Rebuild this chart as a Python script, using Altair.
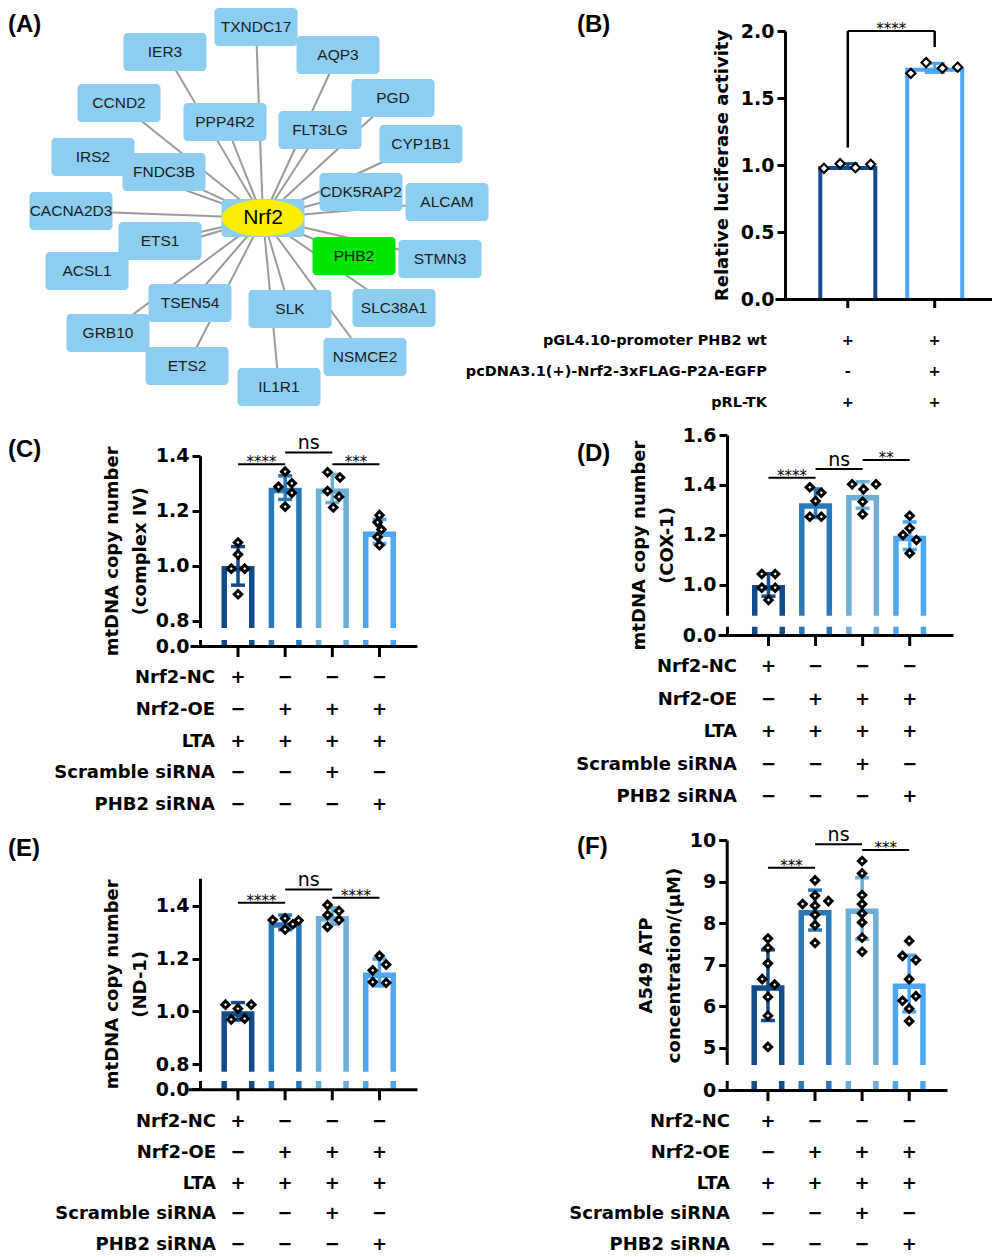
import altair as alt
import pandas as pd

FONT = "DejaVu Sans"
LETTER_FONT = "Liberation Sans"
NET_FONT = "Liberation Sans"

GROUP_COLORS = ["#134b8a", "#2b78b8", "#6caed6", "#4ea5f2"]
B_COLORS = ["#134b8a", "#4ea5f2"]
BOX_BLUE = "#8dcdf0"
BOX_GREEN = "#00e400"

# ---------------- Panel A: network ----------------
net_nodes = ["TXNDC17", "IER3", "AQP3", "CCND2", "PPP4R2", "PGD", "FLT3LG", "CYP1B1",
             "IRS2", "FNDC3B", "CDK5RAP2", "ALCAM", "CACNA2D3", "ETS1", "PHB2", "STMN3",
             "ACSL1", "TSEN54", "SLK", "SLC38A1", "GRB10", "ETS2", "NSMCE2", "IL1R1"]
net_x = [256, 165, 338, 119, 225, 393, 320, 421, 93, 164, 361, 447, 71, 160, 354, 440,
         87, 190, 290, 394, 108, 187, 365, 279]
net_y = [22, 47, 50, 98, 117, 93, 125, 139, 152, 167, 187, 197, 206, 236, 251, 254,
         266, 298, 304, 303, 328, 361, 352, 382]
hub_name = "Nrf2"
hub_x = 263
hub_y = 213
highlight = "PHB2"

# ---------------- Panel B ----------------
b_rows = ["pGL4.10-promoter PHB2 wt", "pcDNA3.1(+)-Nrf2-3xFLAG-P2A-EGFP", "pRL-TK"]
b_signs = [["+", "+"], ["-", "+"], ["+", "+"]]
b_means = [0.993, 1.725]
b_sd = [0.017, 0.034]
b_points = [[0.975, 1.01, 0.98, 1.005], [1.684, 1.764, 1.722, 1.73]]
b_jitter = [[-25, -8, 8, 24], [-25, -9, 8, 24]]
b_sig = [(1, 2, 2.0, "****")]
b_legs = [(1, 1.13, 2.0), (2, 1.88, 2.0)]

# ---------------- Panels C-F ----------------
cf_rows = ["Nrf2-NC", "Nrf2-OE", "LTA", "Scramble siRNA", "PHB2 siRNA"]
MN = "\u2212"
cf_signs = [["+", MN, MN, MN],
            [MN, "+", "+", "+"],
            ["+", "+", "+", "+"],
            [MN, MN, "+", MN],
            [MN, MN, MN, "+"]]

c_means = [1.00, 1.284, 1.281, 1.125]
c_sd = [0.07, 0.043, 0.051, 0.044]
c_points = [[1.085, 1.041, 0.990, 0.990, 0.897],
            [1.342, 1.287, 1.300, 1.265, 1.215],
            [1.340, 1.321, 1.272, 1.251, 1.212],
            [1.184, 1.158, 1.132, 1.105, 1.075]]
c_jitter = [[0, 0, -7, 7, 0], [0, -7, 7, 7, 0], [-5, 8, -5, 7, 1], [0, -2, 2, -2, 0]]
c_sig = [(1, 2, 1.369, "****"), (2, 3, 1.412, "ns"), (3, 4, 1.369, "***")]

d_means = [1.00, 1.327, 1.36, 1.197]
d_sd = [0.045, 0.057, 0.053, 0.055]
d_points = [[1.044, 1.044, 0.989, 0.989, 0.94],
            [1.391, 1.369, 1.336, 1.273, 1.273],
            [1.403, 1.383, 1.403, 1.333, 1.283],
            [1.277, 1.227, 1.20, 1.18, 1.127]]
d_jitter = [[-7, 7, -7, 7, 0], [-6, 6, 0, -6, 6], [-11, 1, 14, 0, 0], [0, 0, -7, 7, 0]]
d_sig = [(1, 2, 1.429, "****"), (2, 3, 1.464, "ns"), (3, 4, 1.50, "**")]

e_means = [1.00, 1.337, 1.361, 1.147]
e_sd = [0.033, 0.028, 0.031, 0.051]
e_points = [[1.025, 1.01, 1.025, 0.969, 0.972],
            [1.346, 1.352, 1.33, 1.344, 1.31],
            [1.403, 1.38, 1.365, 1.346, 1.32],
            [1.21, 1.177, 1.155, 1.111, 1.108]]
e_jitter = [[-13, 0, 14, -7, 7], [-13, 0, 8, 14, 0], [-5, 7, -5, 7, -5], [0, 7, -7, -7, 7]]
e_sig = [(1, 2, 1.411, "****"), (2, 3, 1.462, "ns"), (3, 4, 1.43, "****")]

f_means = [6.506, 8.313, 8.35, 6.546]
f_sd = [0.85, 0.48, 0.74, 0.68]
f_points = [[7.63, 7.405, 7.03, 6.65, 6.52, 6.22, 5.77, 5.02],
            [9.03, 8.46, 8.66, 8.53, 8.42, 8.2, 7.95, 7.52],
            [9.494, 9.196, 8.675, 8.458, 8.233, 8.016, 7.646, 7.31],
            [7.57, 7.21, 7.11, 6.65, 6.13, 6.24, 5.94, 5.64]]
f_jitter = [[0, 0, 0, -6, 7, 0, 0, 0], [0, -13, 0, 14, 0, 0, 0, 0],
            [0, 0, 0, 0, 0, 0, 0, 0], [0, -7, 7, 0, -7, 7, 0, 0]]
f_sig = [(1, 2, 9.333, "***"), (2, 3, 9.896, "ns"), (3, 4, 9.759, "***")]

CELL_W = 492


def network_panel():
    nodes = pd.DataFrame({"name": net_nodes, "x": net_x, "y": net_y})
    nodes["col"] = [BOX_GREEN if n == highlight else BOX_BLUE for n in net_nodes]
    edges = nodes.assign(hx=hub_x, hy=hub_y)
    allnodes = pd.concat([nodes, pd.DataFrame({"name": [hub_name], "x": [hub_x],
                                               "y": [hub_y], "col": [BOX_BLUE]})],
                         ignore_index=True)
    xs = alt.Scale(domain=[8, 8 + CELL_W], nice=False, zero=False)
    ys = alt.Scale(domain=[8, 420], nice=False, zero=False, reverse=True)
    edge_l = alt.Chart(edges).mark_rule(color="#9b9b9b", strokeWidth=2).encode(
        x=alt.X("hx:Q", scale=xs, axis=None), y=alt.Y("hy:Q", scale=ys, axis=None),
        x2="x:Q", y2="y:Q")
    box_l = alt.Chart(allnodes).transform_calculate(
        x1="datum.x - 41.5", x2="datum.x + 41.5", y1="datum.y - 19", y2="datum.y + 19"
    ).mark_rect(cornerRadius=4, opacity=1).encode(
        x=alt.X("x1:Q", scale=xs, axis=None), x2="x2:Q",
        y=alt.Y("y1:Q", scale=ys, axis=None), y2="y2:Q",
        color=alt.Color("col:N", scale=None))
    hub_df = pd.DataFrame({"name": [hub_name], "x": [hub_x], "y": [hub_y]})
    ell_l = alt.Chart(hub_df).mark_point(
        shape="M-1,0A1,0.45,0,1,1,1,0A1,0.45,0,1,1,-1,0Z", size=6724, filled=True,
        fill="#fbee00", strokeWidth=0, opacity=1).encode(
        x=alt.X("x:Q", scale=xs, axis=None), y=alt.Y("y:Q", scale=ys, axis=None))
    txt_l = alt.Chart(nodes).mark_text(font=NET_FONT, fontSize=15.5, color="#1c1c1c").encode(
        x=alt.X("x:Q", scale=xs, axis=None), y=alt.Y("y:Q", scale=ys, axis=None),
        text="name:N")
    hub_t = alt.Chart(hub_df).mark_text(font=NET_FONT, fontSize=21, color="black").encode(
        x=alt.X("x:Q", scale=xs, axis=None), y=alt.Y("y:Q", scale=ys, axis=None),
        text="name:N")
    letter = alt.Chart(pd.DataFrame({"t": ["(A)"]})).mark_text(
        font=LETTER_FONT, fontSize=24, fontWeight="bold", align="left", baseline="top",
        color="black").encode(text="t:N", x=alt.value(0), y=alt.value(0))
    return alt.layer(edge_l, box_l, ell_l, txt_l, hub_t, letter).properties(
        width=CELL_W, height=412)


def bar_panel(means, sds, points, jitter, colors, sig, rows, signs, L, legs=None):
    n = len(means)
    r0, r1 = L["xr"]
    ppu = L["ppu"]
    d0 = 1 - (L["c1"] - r0) / ppu
    d1 = 1 + (r1 - L["c1"]) / ppu
    xs = alt.Scale(domain=[d0, d1], range=[r0, r1], nice=False, zero=False)
    ys = alt.Scale(domain=L["ydom"], range=L["yrng"], nice=False, zero=False)
    slope = (L["yrng"][-2] - L["yrng"][-1]) / (L["ydom"][-1] - L["ydom"][-2])
    slope0 = (L["yrng"][0] - L["yrng"][1]) / (L["ydom"][1] - L["ydom"][0])
    sw = L["sw"]

    bdf = pd.DataFrame({"pos": list(range(1, n + 1)), "col": colors[:n],
                        "mean": means, "sd": sds})
    bdf["lo"] = bdf["mean"] - bdf["sd"]
    bdf["hi"] = bdf["mean"] + bdf["sd"]
    bdf["inner"] = bdf["mean"] - sw / slope
    bdf["zero"] = 0.0
    bdf["tickend"] = -L["xtick"] / slope0
    caps = pd.concat([bdf.assign(cy=bdf["lo"]), bdf.assign(cy=bdf["hi"])], ignore_index=True)
    pts = []
    for i, (vals, dxs) in enumerate(zip(points, jitter)):
        for v, dx in zip(vals, dxs):
            pts.append({"px": i + 1 + dx / ppu, "v": v})
    pdf = pd.DataFrame(pts)

    xaxis = alt.Axis(values=list(range(1, n + 1)), labels=False, title=None, grid=False,
                     ticks=False, domainWidth=3, domainColor="black",
                     offset=L["xoff"], zindex=1)
    ykw = dict(values=L["yticks"], format=L["fmt"], title=L["title"],
               titlePadding=L["tp"], titleFont=FONT, titleFontSize=18,
               titleFontWeight="bold", titleColor="black", titleLineHeight=28,
               labelFont=FONT, labelFontSize=19, labelFontWeight="bold",
               labelColor="black", labelPadding=3, labelOverlap=False,
               tickSize=8, tickWidth=3, tickColor="black", domainWidth=3,
               domainColor="black", grid=False, offset=L["yoff"], zindex=0)
    if "titleY" in L:
        ykw["titleY"] = L["titleY"]
    yaxis = alt.Axis(**ykw)

    # hollow bars: coloured outer bar with a white inner bar (open at the baseline)
    outer = alt.Chart(bdf).mark_bar(size=L["bw"] + sw, opacity=1).encode(
        x=alt.X("pos:Q", scale=xs, axis=xaxis),
        y=alt.Y("mean:Q", scale=ys, axis=yaxis),
        y2="zero:Q",
        color=alt.Color("col:N", scale=None))
    inner = alt.Chart(bdf).mark_bar(size=L["bw"] - sw, color="white", opacity=1).encode(
        x=alt.X("pos:Q", scale=xs), y=alt.Y("inner:Q", scale=ys), y2="zero:Q")
    # category ticks hanging below the baseline
    xticks = alt.Chart(bdf).mark_rule(color="black", strokeWidth=3, opacity=1).encode(
        x=alt.X("pos:Q", scale=xs), y=alt.Y("zero:Q", scale=ys), y2="tickend:Q")
    err = alt.Chart(bdf).mark_rule(strokeWidth=L["ew"], opacity=1).encode(
        x=alt.X("pos:Q", scale=xs), y=alt.Y("lo:Q", scale=ys),
        y2="hi:Q", color=alt.Color("col:N", scale=None))
    capl = alt.Chart(caps).mark_tick(orient="horizontal", size=L["cap"],
                                     thickness=L["ew"], opacity=1).encode(
        x=alt.X("pos:Q", scale=xs), y=alt.Y("cy:Q", scale=ys),
        color=alt.Color("col:N", scale=None))
    layers = [outer, inner, xticks, err, capl]
    if L.get("brk"):
        mdf = pd.DataFrame({"a": [d0], "b": [d1], "lo": [L["ydom"][1]], "hi": [L["ydom"][2]]})
        layers.append(alt.Chart(mdf).mark_rect(color="white", opacity=1).encode(
            x=alt.X("a:Q", scale=xs), x2="b:Q",
            y=alt.Y("lo:Q", scale=ys), y2="hi:Q"))
    layers.append(alt.Chart(pdf).mark_point(
        shape="diamond", filled=True, fill="white", stroke="black",
        strokeWidth=L["pw"], size=L["ps"], opacity=1).encode(
        x=alt.X("px:Q", scale=xs), y=alt.Y("v:Q", scale=ys)))

    sdf = pd.DataFrame({"x1": [s[0] for s in sig], "x2": [s[1] for s in sig],
                        "yv": [s[2] for s in sig], "lab": [s[3] for s in sig]})
    sdf["xm"] = (sdf["x1"] + sdf["x2"]) / 2
    layers.append(alt.Chart(sdf).mark_rule(strokeWidth=2, color="black").encode(
        x=alt.X("x1:Q", scale=xs), x2="x2:Q", y=alt.Y("yv:Q", scale=ys)))
    if legs:
        ldf = pd.DataFrame({"lx": [l[0] for l in legs], "ly1": [l[1] for l in legs],
                            "ly2": [l[2] for l in legs]})
        layers.append(alt.Chart(ldf).mark_rule(strokeWidth=2.5, color="black").encode(
            x=alt.X("lx:Q", scale=xs), y=alt.Y("ly1:Q", scale=ys), y2="ly2:Q"))
    ast = sdf[sdf["lab"] != "ns"]
    nsd = sdf[sdf["lab"] == "ns"]
    layers.append(alt.Chart(ast).mark_text(font=FONT, fontSize=15, baseline="alphabetic",
                                           dy=3, color="black").encode(
        x=alt.X("xm:Q", scale=xs), y=alt.Y("yv:Q", scale=ys), text="lab:N"))
    if len(nsd):
        layers.append(alt.Chart(nsd).mark_text(font=FONT, fontSize=19, baseline="alphabetic",
                                               dy=-3, color="black").encode(
            x=alt.X("xm:Q", scale=xs), y=alt.Y("yv:Q", scale=ys), text="lab:N"))

    # condition table below the axis: one text row per condition
    t0, t1 = L["trange"]
    nr = len(rows)
    for ri, (rname, srow) in enumerate(zip(rows, signs)):
        ypx = t0 + (t1 - t0) * ri / (nr - 1)
        sdf_r = pd.DataFrame({"pos": list(range(1, len(srow) + 1)), "s": srow})
        layers.append(alt.Chart(sdf_r).mark_text(
            font=FONT, fontSize=L["tfs"], fontWeight="bold", color="black").encode(
            x=alt.X("pos:Q", scale=xs), y=alt.value(ypx), text="s:N"))
        layers.append(alt.Chart(pd.DataFrame({"row": [rname]})).mark_text(
            font=FONT, fontSize=L["tfs"], fontWeight="bold", align="right",
            color="black").encode(x=alt.value(L["lr"]), y=alt.value(ypx), text="row:N"))
    layers.append(alt.Chart(pd.DataFrame({"t": [L["letter"]]})).mark_text(
        font=LETTER_FONT, fontSize=24, fontWeight="bold", align="left", baseline="top",
        color="black").encode(text="t:N", x=alt.value(L["lx"]), y=alt.value(L["ly"])))
    return alt.layer(*layers).properties(width=CELL_W, height=L["H"])


LB = dict(xr=(275, 497), c1=346, ppu=91, ydom=[0, 2], yrng=[286, 18], brk=False,
          yoff=-285, xoff=-(412 - 286), yticks=[0, 0.5, 1.0, 1.5, 2.0], fmt=".1f",
          title="Relative luciferase activity", tp=9, xtick=9, bw=55, sw=4, ew=3,
          cap=20, pw=2.2, ps=85, trange=[328, 390], lr=267, tfs=14.5,
          letter="(B)", lx=77, ly=0, H=412)
LC = dict(xr=(182, 409), c1=227, ppu=49.33, ydom=[0, 0.02, 0.7745, 1.4],
          yrng=[221, 215, 203, 30.7], brk=True, yoff=-192, xoff=-(400 - 221),
          yticks=[0, 0.8, 1.0, 1.2, 1.4], fmt=".1f",
          title=["mtDNA copy number", "(complex IV)"], tp=6, xtick=11, bw=27.5, sw=5.5,
          ew=3.5, cap=14, pw=3, ps=55, trange=[253, 380], lr=207, tfs=18,
          letter="(C)", lx=0, ly=13, H=400)
LD = dict(xr=(218, 453), c1=265.5, ppu=49.17, ydom=[0, 0.02, 0.877, 1.6],
          yrng=[210, 201.7, 190.7, 10], brk=True, yoff=-227, xoff=-(400 - 210),
          yticks=[0, 1.0, 1.2, 1.4, 1.6], fmt=".1f",
          title=["mtDNA copy number", "(COX-1)"], tp=6, titleY=120, xtick=11, bw=27.5,
          sw=5.5, ew=3.5, cap=14, pw=3, ps=55, trange=[242, 372], lr=237, tfs=18,
          letter="(D)", lx=77, ly=17, H=400)
LE = dict(xr=(180, 409), c1=227, ppu=49.33, ydom=[0, 0.02, 0.771, 1.504],
          yrng=[264.3, 256, 246.7, 53.3], brk=True, yoff=-192, xoff=-(429 - 264.3),
          yticks=[0, 0.8, 1.0, 1.2, 1.4], fmt=".1f",
          title=["mtDNA copy number", "(ND-1)"], tp=6, xtick=11, bw=27.5, sw=5.5,
          ew=3.5, cap=14, pw=3, ps=55, trange=[297, 420], lr=208, tfs=18,
          letter="(E)", lx=0, ly=12, H=429)
LF = dict(xr=(218, 447), c1=265, ppu=49.23, ydom=[0, 0.2, 4.584, 10],
          yrng=[265, 256, 240, 15], brk=True, yoff=-226.7, xoff=-(429 - 265),
          yticks=[0, 5, 6, 7, 8, 9, 10], fmt="d",
          title=["A549 ATP", "concentration/(\u03bcM)"], tp=6, xtick=11, bw=27.5, sw=5.5,
          ew=3.5, cap=14, pw=3, ps=55, trange=[297, 420], lr=230, tfs=18,
          letter="(F)", lx=77, ly=10, H=429)

pA = network_panel()
pB = bar_panel(b_means, b_sd, b_points, b_jitter, B_COLORS, b_sig, b_rows, b_signs, LB,
               legs=b_legs)
pC = bar_panel(c_means, c_sd, c_points, c_jitter, GROUP_COLORS, c_sig, cf_rows, cf_signs, LC)
pD = bar_panel(d_means, d_sd, d_points, d_jitter, GROUP_COLORS, d_sig, cf_rows, cf_signs, LD)
pE = bar_panel(e_means, e_sd, e_points, e_jitter, GROUP_COLORS, e_sig, cf_rows, cf_signs, LE)
pF = bar_panel(f_means, f_sd, f_points, f_jitter, GROUP_COLORS, f_sig, cf_rows, cf_signs, LF)

chart = alt.concat(pA, pB, pC, pD, pE, pF, columns=2, spacing=0, bounds="flush",
                   align="each").properties(padding=0, background="white"
                   ).configure_view(stroke=None)

chart.save("out.html", embed_options={"renderer": "svg", "actions": False})
